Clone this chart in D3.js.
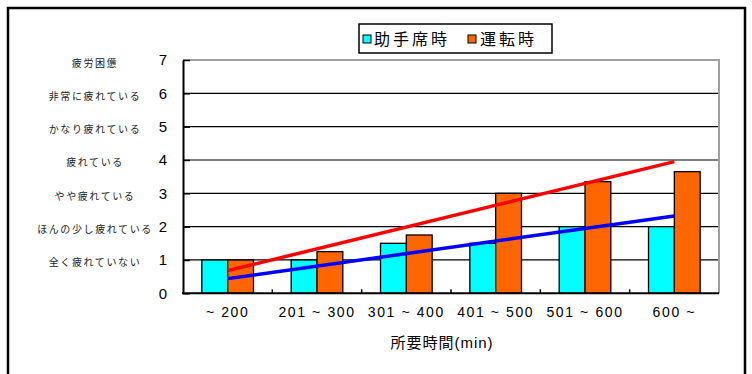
<!DOCTYPE html>
<html><head><meta charset="utf-8">
<script src="https://cdn.jsdelivr.net/npm/d3@7"></script>
<style>
html,body{margin:0;padding:0;background:#fff;}
svg{display:block;font-family:"Liberation Sans","Noto Sans CJK JP",sans-serif;}
</style></head>
<body>
<script>
const categories = ["~ 200","201 ~ 300","301 ~ 400","401 ~ 500","501 ~ 600","600 ~"];
const seriesNames = ["助手席時","運転時"];
const passenger = [1,1,1.5,1.5,2,2];
const driver = [1,1.25,1.75,3,3.35,3.65];
const trendPassenger = [0.44,2.32];
const trendDriver = [0.68,3.95];
const yTicks = [0,1,2,3,4,5,6,7];
const fatigueLabels = ["全く疲れていない","ほんの少し疲れている","やや疲れている","疲れている","かなり疲れている","非常に疲れている","疲労困憊"];
const xTitle = "所要時間(min)";
const colors = ["#00FFFF","#FF6600"];
const trendColors = ["#0000FF","#FF0000"];

const W=752,H=374;
const svg=d3.select("body").append("svg").attr("width",W).attr("height",H);

// outer frame
svg.append("rect").attr("x",8).attr("y",8).attr("width",737).attr("height",380)
  .attr("fill","#fff").attr("stroke","#000").attr("stroke-width",2.5);

const L=183,R=719,T=60,B=293.3;
const x0=d3.scaleBand().domain(categories).range([L,R]).paddingInner(0.422).paddingOuter(0.211);
const x1=d3.scaleBand().domain([0,1]).range([0,x0.bandwidth()]);
const y=d3.scaleLinear().domain([0,7]).range([B,T]);

// gridlines
svg.append("g").selectAll("line").data(yTicks.filter(v=>v>0&&v<7)).join("line")
  .attr("x1",L).attr("x2",R).attr("y1",d=>y(d)).attr("y2",d=>y(d))
  .attr("stroke","#000").attr("stroke-width",1.2);
// plot border top/right gray
svg.append("path").attr("d",`M${L},${y(7)}H${R}V${B}`).attr("fill","none")
  .attr("stroke","#a0a0a0").attr("stroke-width",2);

// bars
const data=categories.map((c,i)=>({c,vals:[passenger[i],driver[i]]}));
const g=svg.append("g").selectAll("g").data(data).join("g")
  .attr("transform",d=>`translate(${x0(d.c)},0)`);
g.selectAll("rect").data(d=>d.vals.map((v,k)=>({v,k}))).join("rect")
  .attr("x",d=>x1(d.k)).attr("width",x1.bandwidth())
  .attr("y",d=>y(d.v)).attr("height",d=>y(0)-y(d.v))
  .attr("fill",d=>colors[d.k]).attr("stroke","#000").attr("stroke-width",1.3);

// y axis
const yAxis=d3.axisLeft(y).tickValues(yTicks).tickSizeInner(-7).tickSizeOuter(0).tickFormat(d3.format("d")).tickPadding(14);
const ya=svg.append("g").attr("transform",`translate(${L},0)`).call(yAxis);
ya.select(".domain").attr("stroke","#000").attr("stroke-width",2);
ya.selectAll(".tick line").attr("stroke","#000").attr("stroke-width",1.5);
ya.selectAll("text").attr("font-size",15).attr("fill","#000").attr("text-anchor","middle").attr("x",-20);

// x axis
const xa=svg.append("g").attr("transform",`translate(0,${B})`)
  .call(d3.axisBottom(x0).tickSize(0).tickPadding(14));
xa.select(".domain").attr("stroke","#000").attr("stroke-width",2).attr("d",`M${L-1},0H${R}`);
xa.selectAll("text").attr("font-size",14).attr("fill","#000").attr("letter-spacing","1.6px");
const step=x0.step();
svg.append("g").selectAll("line").data(categories.slice(1)).join("line")
  .attr("x1",d=>x0(d)-step*x0.paddingInner()/2).attr("x2",d=>x0(d)-step*x0.paddingInner()/2)
  .attr("y1",B).attr("y2",B-4).attr("stroke","#000").attr("stroke-width",1.5);

// trend lines
const cx=i=>x0(categories[i])+x0.bandwidth()/2;
const line=d3.line().x(d=>d[0]).y(d=>y(d[1]));
[trendPassenger,trendDriver].forEach((t,k)=>{
  svg.append("path").attr("d",line([[cx(0),t[0]],[cx(categories.length-1),t[1]]]))
    .attr("fill","none").attr("stroke",trendColors[k]).attr("stroke-width",3.5);
});

// fatigue labels
svg.append("g").selectAll("text").data(fatigueLabels).join("text")
  .attr("x",95).attr("y",(d,i)=>y(i+1)+3).attr("dy","0.35em")
  .attr("text-anchor","middle").attr("font-size",10).attr("letter-spacing","1.6px")
  .attr("fill","#222").text(d=>d);

// x title
svg.append("text").attr("x",442).attr("y",348).attr("text-anchor","middle")
  .attr("font-size",15).attr("letter-spacing","1px").text(xTitle);

// legend
const lg=svg.append("g");
lg.append("rect").attr("x",359).attr("y",24).attr("width",193).attr("height",29)
  .attr("fill","#fff").attr("stroke","#000").attr("stroke-width",1.5);
const lx=[363,468],tx=[374,480];
seriesNames.forEach((n,k)=>{
  lg.append("rect").attr("x",lx[k]).attr("y",35).attr("width",8).attr("height",8)
    .attr("fill",colors[k]).attr("stroke","#000").attr("stroke-width",1);
  lg.append("text").attr("x",tx[k]).attr("y",45).attr("font-size",16).attr("letter-spacing","3px").text(n);
});
</script>
</body></html>
